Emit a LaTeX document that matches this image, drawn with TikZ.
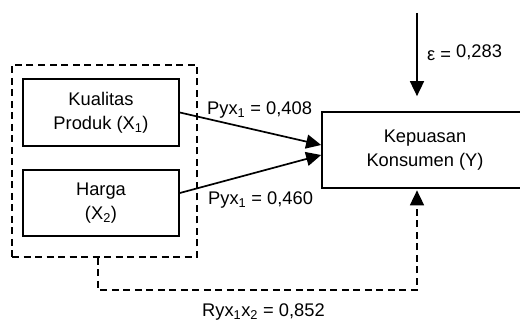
\documentclass[tikz,border=0pt]{standalone}
\usepackage{fontspec}
\setmainfont{Liberation Sans}
\usetikzlibrary{arrows.meta}
\begin{document}
\begin{tikzpicture}[x=1pt,y=-1pt,
  font=\fontsize{18.3}{24}\selectfont,
  box/.style={draw, line width=1.7pt, align=center, inner sep=0pt},
  grpbox/.style={draw, line width=1.7pt, dash pattern=on 7pt off 4.5pt, inner sep=0pt},
  arr/.style={line width=1.7pt, -{Triangle[length=15pt,width=14pt]}},
  dline/.style={line width=1.7pt, dash pattern=on 7pt off 4.5pt},
  lbl/.style={anchor=base west, inner sep=0pt}]
  % canvas
  \fill[white] (0,0) rectangle (520,323);
  \useasboundingbox (0,0) rectangle (520,323);

  % dashed group around the two independent variables
  \node[grpbox, minimum width=185pt, minimum height=192pt] (grp) at (104.5,161) {};
  \node[box, minimum width=156pt, minimum height=67pt] (b1) at (101,112.5) {Kualitas\\Produk (X\textsubscript{1})};
  \node[box, minimum width=156pt, minimum height=66pt] (b2) at (101,203) {Harga\\(X\textsubscript{2})};
  % dependent variable
  \node[box, minimum width=206pt, minimum height=76pt] (y) at (425,150) {Kepuasan\\Konsumen (Y)};

  % path coefficients
  \draw[arr] (b1.east) -- ([yshift=5pt]y.west);
  \draw[arr] ([yshift=10pt]b2.east) -- ([yshift=-5pt]y.west);

  % residual
  \coordinate (etop) at (417,13);
  \draw[arr] (etop) -- ([xshift=-8pt,yshift=15pt]y.north);

  % simultaneous correlation
  \coordinate (rb) at (417,290);
  \draw[dline, arr] ([xshift=-6.5pt]grp.south) |- (rb) -- ([xshift=-8pt,yshift=-1.5pt]y.south);

  % labels
  \node[lbl] (l1) at (207,115) {Pyx\textsubscript{1} = 0,408};
  \node[lbl] (l2) at (208,205) {Pyx\textsubscript{1} = 0,460};
  \node[lbl] (le) at (427,58) {\raisebox{-3pt}{ε =} 0,283};
  \node[lbl] (lr) at (202,317) {Ryx\textsubscript{1}x\textsubscript{2} = 0,852};
\end{tikzpicture}
\end{document}
